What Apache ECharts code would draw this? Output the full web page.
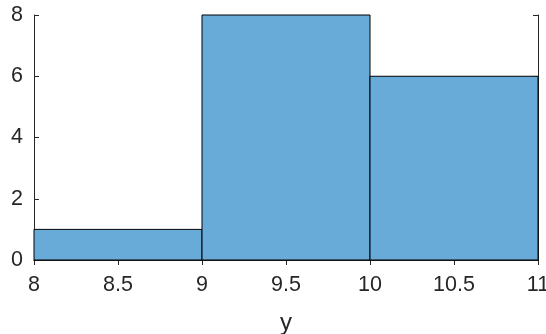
<!DOCTYPE html>
<html>
<head>
<meta charset="utf-8">
<script src="https://cdn.jsdelivr.net/npm/echarts@6/dist/echarts.min.js"></script>
<style>
  html, body { margin: 0; padding: 0; background: #fff; }
  #chart { width: 546px; height: 334px; }
</style>
</head>
<body>
<div id="chart"></div>
<script>
// Histogram bins: edges and counts
const binEdges = [8, 9, 10, 11];
const binCounts = [1, 8, 6];
const xTicks = [8, 8.5, 9, 9.5, 10, 10.5, 11];
const yTicks = [0, 2, 4, 6, 8];

const bins = binCounts.map((c, i) => [binEdges[i], binEdges[i + 1], c]);

const axisColor = '#262626';
const font = '"Liberation Sans", Arial, sans-serif';

const chart = echarts.init(document.getElementById('chart'), null, { renderer: 'canvas' });

const baseX = {
  type: 'value', min: xTicks[0], max: xTicks[xTicks.length - 1], interval: 0.5,
  axisLine: { show: true, lineStyle: { color: axisColor, width: 1 } },
  axisTick: { show: true, inside: true, length: 5, lineStyle: { color: axisColor } },
  splitLine: { show: false }
};
const baseY = {
  type: 'value', min: yTicks[0], max: yTicks[yTicks.length - 1], interval: 2,
  axisLine: { show: true, lineStyle: { color: axisColor, width: 1 } },
  axisTick: { show: true, inside: true, length: 5, lineStyle: { color: axisColor } },
  splitLine: { show: false }
};

chart.setOption({
  animation: false,
  backgroundColor: '#fff',
  grid: { left: 34, right: 8, top: 15, bottom: 74, containLabel: false, outerBoundsMode: 'none' },
  xAxis: [
    Object.assign({}, baseX, {
      position: 'bottom',
      name: 'y', nameLocation: 'middle', nameGap: 51,
      nameTextStyle: { color: axisColor, fontSize: 24, fontFamily: font },
      axisLabel: { color: axisColor, fontSize: 21.5, fontFamily: font, margin: 14,
        formatter: v => String(v) }
    }),
    Object.assign({}, baseX, { position: 'top', axisLabel: { show: false } })
  ],
  yAxis: [
    Object.assign({}, baseY, {
      position: 'left',
      axisLabel: { color: axisColor, fontSize: 21.5, fontFamily: font, margin: 11 }
    }),
    Object.assign({}, baseY, { position: 'right', axisLabel: { show: false } })
  ],
  series: [{
    type: 'custom',
    xAxisIndex: 0, yAxisIndex: 0,
    data: bins,
    renderItem: function (params, api) {
      const p0 = api.coord([api.value(0), 0]);
      const p1 = api.coord([api.value(1), api.value(2)]);
      return {
        type: 'rect',
        shape: { x: p0[0], y: p1[1], width: p1[0] - p0[0], height: p0[1] - p1[1] },
        style: { fill: '#68aad8', stroke: '#000', lineWidth: 1 }
      };
    },
    z: 1
  }]
});
</script>
</body>
</html>
